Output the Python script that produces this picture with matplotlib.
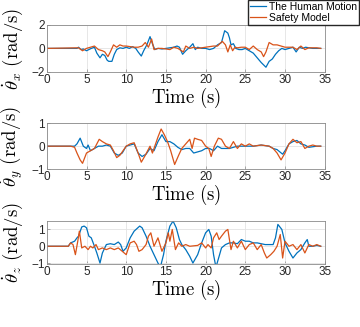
import matplotlib
matplotlib.use("Agg")
import matplotlib.pyplot as plt

plt.rcParams['mathtext.fontset'] = 'cm'
plt.rcParams['font.family'] = ['Liberation Sans', 'DejaVu Sans']

# panel 1: theta_x rate
tx_human = [0, 3.8, 4.0, 4.3, 4.6, 5.0, 5.3, 5.6, 6.0, 6.3,
            6.7, 7.0, 7.3, 7.6, 7.8, 8.2, 8.5, 8.8, 9.2, 9.6,
            10.0, 10.4, 10.8, 11.2, 11.5, 11.9, 12.2, 12.6, 13.0, 13.3,
            13.6, 14.0, 14.5, 15.0, 15.5, 16.0, 16.4, 16.7, 17.1, 17.5,
            18.0, 18.4, 18.7, 19.0, 19.5, 20.0, 20.5, 21.0, 21.5, 22.0,
            22.4, 22.8, 23.0, 23.2, 23.5, 23.8, 24.2, 24.6, 25.0, 25.5,
            26.0, 26.5, 27.0, 27.6, 28.0, 28.4, 28.8, 29.2, 29.6, 30.0,
            30.5, 31.0, 31.4, 31.8, 32.2, 32.6, 33.0, 33.5, 34.0, 34.5]
x_human = [0, 0, 0.1, -0.1, -0.05, -0.2, -0.1, 0, 0.1, -0.4,
           -0.8, -0.5, -0.6, -1.0, -1.1, -1.1, -0.5, -0.1, 0.05, 0,
           0.1, 0, 0.15, 0, -0.3, -0.65, -0.2, 0.3, 1.0, 0.4,
           -0.1, 0, -0.05, 0, 0.05, 0.1, 0.2, 0.1, -0.5, -0.2,
           0.1, 0.4, -0.1, 0.1, 0, 0, -0.1, 0, 0.3, 0.5,
           1.5, 1.3, 0.9, 0.3, 0.4, 0, -0.1, -0.1, 0, -0.2,
           -0.4, -0.8, -1.2, -1.6, -1.1, -0.9, -0.5, -0.2, 0, -0.1,
           0, 0.1, -0.3, 0.1, 0, 0.1, 0.05, 0, 0, 0]
tx_safety = [0, 4.0, 4.5, 5.0, 5.5, 6.0, 6.5, 7.0, 7.3, 7.7,
             8.0, 8.4, 8.8, 9.2, 9.6, 10.0, 10.5, 11.0, 11.5, 12.0,
             12.4, 12.8, 13.2, 13.5, 14.0, 14.5, 15.0, 15.5, 16.0, 16.5,
             17.2, 17.5, 18.0, 18.5, 19.0, 19.5, 20.0, 20.5, 21.0, 21.5,
             22.1, 22.5, 22.8, 23.1, 23.4, 23.7, 24.0, 24.5, 25.0, 25.5,
             26.0, 26.5, 27.0, 27.3, 27.6, 28.0, 28.5, 29.0, 29.5, 30.0,
             30.5, 31.0, 31.5, 32.0, 32.5, 33.0, 33.5, 34.0, 34.5]
x_safety = [0, 0.05, -0.2, 0, 0.1, 0.2, -0.1, -0.2, -0.3, -0.7,
            -0.3, 0.3, 0.1, 0.3, 0.2, 0.2, 0.15, 0.1, 0.1, 0.2,
            0.5, 0.1, 0.8, -0.1, 0, 0, -0.05, -0.1, 0.1, 0,
            -0.3, 0.2, 0, 0.1, 0, 0.05, 0.1, 0.15, 0.2, 0.2,
            0.6, 0.3, -0.3, 0.3, -0.2, 0.1, 0.05, 0.1, 0.1, -0.1,
            0.2, -0.1, -0.3, -0.7, -0.3, 0.5, 0.3, 0.3, 0.2, 0.1,
            0.1, 0.1, -0.1, 0.2, -0.1, 0.05, 0.05, 0.05, 0]

# panel 2: theta_y rate
ty_human = [0, 3.5, 3.8, 4.2, 4.6, 5.0, 5.2, 5.5, 6.0, 6.5,
            7.0, 7.5, 8.0, 8.5, 9.0, 9.5, 10.0, 10.5, 11.0, 11.5,
            12.0, 12.5, 13.0, 13.5, 14.0, 14.5, 15.0, 15.5, 16.0, 16.5,
            17.0, 17.5, 18.0, 18.5, 19.0, 19.5, 20.0, 20.5, 21.0, 21.5,
            22.0, 23.0, 23.5, 24.0, 25.0, 26.0, 27.0, 28.0, 28.5, 29.0,
            29.7, 30.0, 30.5, 31.0, 31.5, 32.0, 32.5, 33.0, 34.0, 34.5]
y_human = [0, 0, 0.1, 0.35, 0.0, -0.1, 0.05, -0.2, -0.1, 0,
           0, 0.05, 0, -0.3, -0.4, -0.3, 0, 0.05, 0.1, -0.3,
           -0.45, -0.35, -0.1, -0.2, 0.2, 0.5, 0.2, 0.2, 0.1, -0.05,
           -0.15, -0.1, -0.1, -0.3, -0.25, -0.2, -0.1, -0.1, -0.2, 0,
           -0.1, -0.1, -0.05, 0, 0, 0, 0.05, 0, -0.1, -0.15,
           -0.35, -0.2, 0.1, 0.2, 0.25, 0.1, 0.05, -0.05, 0, 0]
ty_safety = [0, 3.0, 3.5, 3.8, 4.2, 4.5, 5.0, 5.5, 6.0, 6.6,
             7.0, 7.5, 8.0, 8.4, 8.8, 9.2, 9.6, 10.0, 10.5, 11.0,
             11.5, 11.9, 12.4, 13.0, 13.3, 13.6, 14.0, 14.4, 14.8, 15.2,
             15.6, 16.1, 16.6, 17.0, 17.5, 18.0, 18.3, 18.6, 19.0, 19.5,
             20.0, 20.4, 20.7, 21.1, 21.6, 22.0, 22.5, 23.0, 23.5, 24.0,
             24.5, 25.0, 25.5, 26.0, 27.0, 28.0, 28.5, 29.0, 29.5, 30.0,
             30.5, 31.0, 31.5, 32.0, 32.5, 33.0, 33.5, 34.0, 34.5]
y_safety = [0, 0, -0.05, -0.3, -0.6, -0.75, -0.3, -0.2, -0.1, 0.3,
            0.2, 0.1, 0.05, -0.2, -0.5, -0.4, -0.2, 0, 0.1, 0.15,
            -0.3, -0.7, -0.4, 0, -0.3, 0, 0.4, 0.75, 0.5, 0.2,
            -0.2, -0.8, -0.4, -0.1, 0.1, 0.3, -0.1, 0.35, 0.3, 0.25,
            0, -0.1, -0.45, 0, 0.35, 0.3, 0, -0.1, 0.2, -0.1,
            0.1, 0, 0.1, 0, 0.05, 0, -0.1, -0.3, -0.6, -0.3,
            0.1, 0.3, 0.15, 0.2, -0.1, 0, 0.05, 0, 0]

# panel 3: theta_z rate
tz_human = [0, 2.7, 3.0, 3.5, 3.8, 4.0, 4.4, 4.7, 5.0, 5.3,
            5.6, 6.0, 6.3, 6.7, 7.0, 7.5, 8.0, 8.5, 9.0, 9.3,
            9.6, 10.0, 10.5, 11.0, 11.7, 12.0, 12.5, 13.0, 13.5, 14.0,
            14.3, 14.7, 15.0, 15.5, 15.9, 16.3, 16.7, 17.0, 17.5, 18.0,
            18.4, 19.0, 19.5, 20.0, 20.4, 20.7, 21.0, 21.3, 21.7, 22.0,
            22.5, 23.0, 23.5, 24.0, 24.5, 25.0, 25.5, 26.0, 26.5, 27.0,
            27.5, 28.0, 28.5, 28.8, 29.1, 29.6, 30.0, 30.5, 31.0, 31.5,
            32.0, 32.5, 32.8, 33.0, 33.5, 34.0, 34.5]
z_human = [0, 0, 0.2, 0.3, 0.5, 0.6, 1.15, 1.2, 1.1, 0.6,
           0.5, 0, -0.4, -1.0, -0.4, 0.1, 0.15, 0.1, 0.25, 0.1,
           -0.3, -0.1, 0.5, 0.9, 1.2, 1.1, 0.6, 0, -0.5, -1.0,
           -1.25, -0.5, 0.3, 1.2, 1.5, 1.1, 0.4, 0.1, -0.2, -0.6,
           -1.0, -0.5, 0.2, 0.8, 1.0, 0.6, -0.5, -1.25, -0.6, -0.1,
           0.1, 0.2, 0.2, 0.15, 0.4, 0.3, 0.3, 0.2, 0.2, 0.15,
           0.1, 0.1, 0.1, 0.5, 1.3, 1.0, 0.2, -0.3, -0.7, -0.4,
           -0.2, 0.2, 0.4, 0, 0, 0.05, 0]
tz_safety = [0, 2.7, 3.0, 3.3, 3.6, 3.9, 4.1, 4.4, 4.8, 5.2,
             5.5, 5.8, 6.2, 6.5, 7.0, 7.5, 8.0, 8.5, 9.0, 9.5,
             10.0, 10.5, 11.0, 11.3, 11.6, 12.0, 12.5, 12.8, 13.1, 13.5,
             14.0, 14.5, 15.0, 15.3, 15.5, 15.8, 16.2, 16.6, 17.0, 17.5,
             18.0, 19.0, 19.5, 20.0, 20.3, 20.7, 21.0, 21.4, 21.7, 22.0,
             22.5, 22.8, 23.2, 23.5, 24.0, 24.5, 25.0, 25.5, 26.0, 26.5,
             27.0, 27.4, 27.7, 28.2, 28.6, 29.0, 29.4, 29.7, 30.0, 30.5,
             31.0, 31.5, 32.0, 32.5, 33.0, 33.5, 34.0, 34.5]
z_safety = [0, 0, 0.2, 0.1, -0.5, 0.3, 0.9, -0.1, 0, -0.2,
            0, -0.1, 0.1, -0.2, -0.1, -0.2, -0.1, -0.2, -0.1, -0.3,
            -0.5, 0.2, 0.3, 0.1, -0.3, -0.2, 0.1, 0.6, 0.8, 0,
            0.5, -0.3, 0.2, 0.8, 0.3, 1.0, -0.2, 0.2, 0, 0.1,
            0, 0.05, 0.2, -0.1, 0.1, -0.1, 0.5, 0.8, 0.4, 0.6,
            0.9, 1.0, -0.2, 0.3, -0.1, 0.3, -0.2, 0.1, 0.2, -0.2,
            0.1, -0.4, -0.7, -0.5, -0.3, 0, 0.7, -0.7, 0.3, 0,
            0.1, -0.2, 0.1, -0.4, 0.1, 0, 0.1, 0]

panels = [
    (tx_human, x_human, tx_safety, x_safety, 'x', (-2, 2), [-2, 0, 2]),
    (ty_human, y_human, ty_safety, y_safety, 'y', (-1, 1), [-1, 0, 1]),
    (tz_human, z_human, tz_safety, z_safety, 'z', (-1.05, 1.5), [-1, 0, 1]),
]
# axes rectangles in figure fractions
boxes = [(0.130, 0.780, 0.772, 0.144),
         (0.130, 0.483, 0.772, 0.140),
         (0.130, 0.193, 0.772, 0.131)]

blue = '#0072BD'
orange = '#D95319'

fig = plt.figure(figsize=(3.6, 3.27), dpi=100)

for (th, vh, ts, vs, axname, ylim, yticks), box in zip(panels, boxes):
    ax = fig.add_axes(box)
    ax.plot(th, vh, color=blue, lw=0.9, label='The Human Motion')
    ax.plot(ts, vs, color=orange, lw=0.9, label='Safety Model')
    ax.set_xlim(0, 35)
    ax.set_ylim(*ylim)
    ax.set_xticks(range(0, 36, 5))
    ax.set_yticks(yticks)
    ax.grid(True, color='#e3e3e3', lw=0.6)
    ax.set_axisbelow(True)
    for s in ax.spines.values():
        s.set_color('#8a8a8a')
        s.set_linewidth(0.6)
    ax.tick_params(direction='in', length=2, width=0.5, color='#8a8a8a',
                   labelsize=8.5, labelcolor='#262626', pad=1.5)
    ax.set_xlabel(r'$\mathrm{Time\ (s)}$', fontsize=13.5, labelpad=0)
    ax.set_ylabel(r'$\dot{\theta}_%s\ \mathrm{(rad/s)}$' % axname, fontsize=13.5)
    ax.yaxis.set_label_coords(-0.077, 0.5)

fig.legend(handles=fig.axes[0].lines, loc='upper right',
           bbox_to_anchor=(0.997, 1.0), fontsize=7.5, frameon=True,
           fancybox=False, edgecolor='#262626', framealpha=1,
           handlelength=1.5, handletextpad=0.3, borderpad=0.2,
           labelspacing=0.1, borderaxespad=0)

fig.savefig('out.png', dpi=100)
